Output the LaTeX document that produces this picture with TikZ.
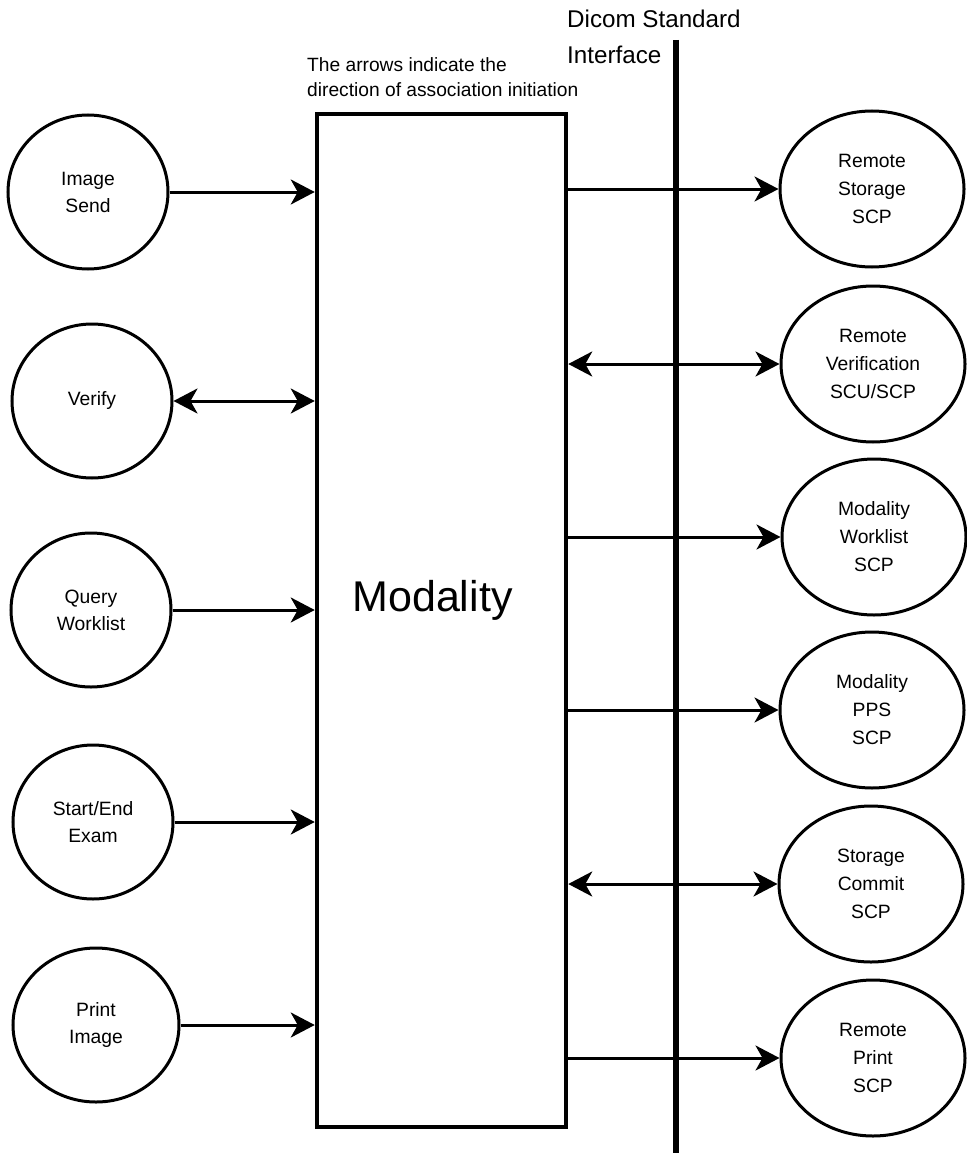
\documentclass[tikz,border=0pt]{standalone}
\usepackage{fontspec}
\setmainfont{Liberation Sans}
\usetikzlibrary{arrows.meta,shapes.geometric}
\begin{document}
\begin{tikzpicture}[x=1pt,y=-1pt,>={Stealth[length=24pt,width=25pt,inset=7pt]},
  svc/.style={draw,ellipse,line width=3pt,inner sep=0pt,minimum width=160pt,minimum height=154pt,align=center,font=\fontsize{19.3}{27}\selectfont},
  rsvc/.style={svc,minimum width=184pt,minimum height=156pt,font=\fontsize{19.3}{28}\selectfont},
  link/.style={line width=3pt}]
\useasboundingbox (0,0) rectangle (966,1153);
% modality box and interface line
\node[draw,line width=4.5pt,minimum width=249pt,minimum height=1013pt] (modality) at (441.5,620.5) {};
\node[font=\fontsize{43}{50}\selectfont] (modtext) at (432.5,600) {Modality};
\coordinate (ifTop) at (676,40);
\coordinate (ifBot) at (676,1153);
\draw[line width=6pt] (ifTop) -- (ifBot);
\node[anchor=west,inner sep=0pt,align=left,font=\fontsize{24.2}{36}\selectfont] (dicom) at (567,37) {Dicom Standard\\Interface};
\node[anchor=west,inner sep=0pt,align=left,font=\fontsize{19.2}{25}\selectfont] (note) at (307,77) {The arrows indicate the\\direction of association initiation};
% local services
\node[svc] (imgsend) at (88,192) {Image\\Send};
\node[svc] (verify) at (92,401) {Verify};
\node[svc] (query) at (91,610) {Query\\Worklist};
\node[svc] (exam) at (93,822) {Start/End\\Exam};
\node[svc,minimum width=166pt] (print) at (96,1025) {Print\\Image};
% remote services
\node[rsvc] (rstore) at (872,189) {Remote\\Storage\\SCP};
\node[rsvc] (rverify) at (873,364) {Remote\\Verification\\SCU/SCP};
\node[rsvc] (mwl) at (874,537) {Modality\\Worklist\\SCP};
\node[rsvc] (mpps) at (872,710) {Modality\\PPS\\SCP};
\node[rsvc] (commit) at (871,884) {Storage\\Commit\\SCP};
\node[rsvc] (rprint) at (873,1058) {Remote\\Print\\SCP};
% left arrows
\draw[link,->] (imgsend.east) -- (imgsend.east -| modality.west);
\draw[link,<->] (verify.east) -- (verify.east -| modality.west);
\draw[link,->] (query.east) -- (query.east -| modality.west);
\draw[link,->] (exam.east) -- (exam.east -| modality.west);
\draw[link,->] (print.east) -- (print.east -| modality.west);
% right arrows
\draw[link,->] (modality.east |- rstore.west) -- (rstore.west);
\draw[link,<->] (modality.east |- rverify.west) -- (rverify.west);
\draw[link,->] (modality.east |- mwl.west) -- (mwl.west);
\draw[link,->] (modality.east |- mpps.west) -- (mpps.west);
\draw[link,<->] (modality.east |- commit.west) -- (commit.west);
\draw[link,->] (modality.east |- rprint.west) -- (rprint.west);
\end{tikzpicture}
\end{document}
